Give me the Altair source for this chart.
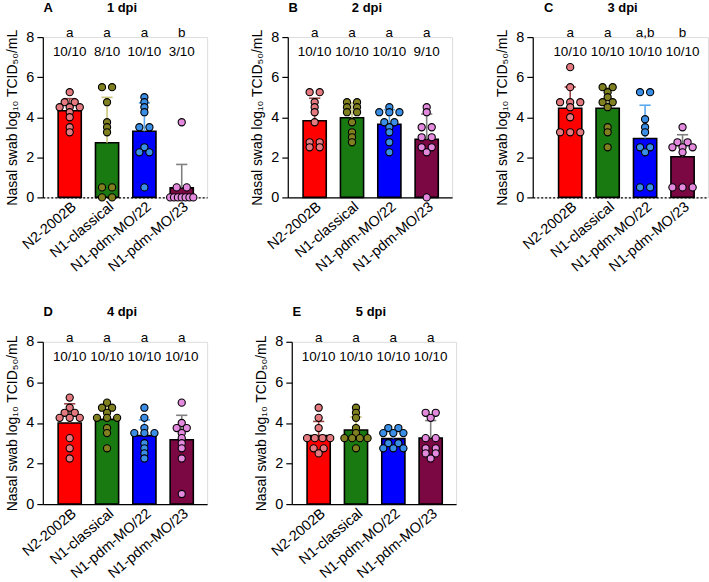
import altair as alt
import pandas as pd
import numpy as np

groups = ["N2-2002B", "N1-classical", "N1-pdm-MO/22", "N1-pdm-MO/23"]
panel_letters = ["A", "B", "C", "D", "E"]
panel_days = ["1 dpi", "2 dpi", "3 dpi", "4 dpi", "5 dpi"]

# log10 TCID50/mL per animal, per group
dpi1 = [
    [5.25, 4.75, 4.75, 4.5, 4.5, 4.5, 4.25, 4.0, 3.5, 3.25],
    [5.5, 5.5, 4.75, 3.75, 3.5, 3.25, 0.5, 0.5, 0.0, 0.0],
    [5.0, 4.75, 4.5, 4.25, 3.5, 3.5, 2.5, 2.25, 2.25, 0.5],
    [3.75, 0.5, 0.5, 0.0, 0.0, 0.0, 0.0, 0.0, 0.0, 0.0],
]
dpi2 = [
    [5.25, 5.25, 4.75, 4.5, 4.25, 3.75, 2.75, 2.75, 2.5, 2.5],
    [4.75, 4.75, 4.5, 4.5, 4.25, 4.25, 3.75, 3.25, 3.0, 2.75],
    [4.5, 4.25, 4.25, 4.25, 3.75, 3.75, 3.5, 3.25, 2.75, 2.25],
    [4.5, 4.25, 3.5, 3.5, 3.0, 3.0, 2.5, 2.5, 2.25, 0.0],
]
dpi3 = [
    [6.5, 5.5, 4.75, 4.75, 4.75, 4.5, 4.0, 3.25, 3.25, 3.25],
    [5.5, 5.5, 5.25, 5.0, 4.75, 4.75, 4.5, 3.5, 3.25, 2.5],
    [5.25, 5.25, 3.9, 3.5, 3.25, 2.5, 2.5, 2.25, 0.5, 0.5],
    [3.5, 2.75, 2.75, 2.5, 2.5, 2.5, 2.25, 0.5, 0.5, 0.5],
]
dpi4 = [
    [5.25, 4.75, 4.5, 4.5, 4.25, 4.25, 4.25, 3.25, 2.75, 2.25],
    [5.0, 4.75, 4.75, 4.5, 4.25, 4.25, 4.25, 3.75, 3.5, 2.75],
    [4.75, 4.25, 3.75, 3.5, 3.5, 3.5, 3.0, 2.75, 2.5, 2.25],
    [5.0, 4.0, 3.75, 3.75, 3.5, 3.25, 3.0, 2.75, 2.25, 0.5],
]
dpi5 = [
    [4.75, 4.25, 3.75, 3.25, 3.25, 3.25, 3.25, 2.75, 2.75, 2.5],
    [4.75, 4.5, 4.25, 3.75, 3.5, 3.25, 3.25, 3.25, 3.25, 2.75],
    [3.75, 3.75, 3.5, 3.5, 3.5, 3.0, 3.0, 2.75, 2.75, 2.75],
    [4.5, 4.5, 4.25, 3.25, 3.25, 2.75, 2.75, 2.5, 2.5, 2.25],
]
all_values = [dpi1, dpi2, dpi3, dpi4, dpi5]

stat_letters = [
    ["a", "a", "a", "b"],
    ["a", "a", "a", "a"],
    ["a", "a", "a,b", "b"],
    ["a", "a", "a", "a"],
    ["a", "a", "a", "a"],
]
fractions = [
    ["10/10", "8/10", "10/10", "3/10"],
    ["10/10", "10/10", "10/10", "9/10"],
    ["10/10", "10/10", "10/10", "10/10"],
    ["10/10", "10/10", "10/10", "10/10"],
    ["10/10", "10/10", "10/10", "10/10"],
]

bar_colors = ["#FF0000", "#1A7A12", "#0000FF", "#7B0843"]
point_colors = ["#E47A80", "#808020", "#3A8EE6", "#E48ADE"]
err_colors = ["#9A4444", "#C8C47A", "#5AA8F0", "#808080"]

FONT = "Liberation Sans"
HALF_BAR = 0.31
HALF_CAP = 0.15


def spread(arr):
    counts = {}
    for v in arr:
        counts[v] = counts.get(v, 0) + 1
    seen = {}
    out = []
    for v in arr:
        n = counts[v]
        k = seen.get(v, 0)
        seen[v] = k + 1
        step = 0.27 if n < 2 else min(0.27, 0.62 / (n - 1))
        out.append((k - (n - 1) / 2) * step)
    return out


def make_panel(p, xmin, width, height, dashed):
    vals = all_values[p]
    pts, stats = [], []
    for g, arr in enumerate(vals):
        offs = spread(arr)
        for v, o in zip(arr, offs):
            pts.append({"x": g + o, "v": v, "fill": point_colors[g]})
        a = np.array(arr)
        m = float(a.mean())
        sd = float(a.std(ddof=1))
        stats.append({
            "xc": g, "x0": g - HALF_BAR, "x1": g + HALF_BAR,
            "cl": g - HALF_CAP, "cr": g + HALF_CAP,
            "mean": m, "top": m + sd,
            "fill": bar_colors[g], "err": err_colors[g],
            "letter": stat_letters[p][g], "frac": fractions[p][g],
        })
    pts = pd.DataFrame(pts)
    stats = pd.DataFrame(stats)
    ann = pd.DataFrame([{"lx": -0.7, "cx": 1.4, "ty": 9.45,
                         "letter": panel_letters[p], "day": panel_days[p]}])

    xscale = alt.Scale(domain=[xmin, 3.68], nice=False, zero=False)
    yscale = alt.Scale(domain=[0, 8], nice=False)
    xaxis = alt.Axis(
        values=[0, 1, 2, 3],
        labelExpr="['N2-2002B','N1-classical','N1-pdm-MO/22','N1-pdm-MO/23'][datum.value]",
        labelAngle=-40, labelFontSize=14.5, labelColor="black", labelFont=FONT,
        labelOverlap=False, labelBound=False, labelFlush=False,
        domainColor="black", domainWidth=1.2, ticks=False,
        domainDash=[2, 2] if dashed else [], grid=False, title=None,
        labelPadding=2,
    )
    yaxis = alt.Axis(
        values=[0, 2, 4, 6, 8], labelFontSize=14.5, labelColor="black", labelFont=FONT,
        domainColor="black", domainWidth=1.2, tickColor="black", tickSize=6,
        tickWidth=1.2, grid=False, title="Nasal swab log₁₀ TCID₅₀/mL",
        titleFontSize=14, titleFontWeight="normal", titleColor="black",
        titleFont=FONT, titlePadding=6, labelPadding=3,
    )

    def X(f):
        return alt.X(f"{f}:Q", scale=xscale, axis=xaxis)

    def Y(f):
        return alt.Y(f"{f}:Q", scale=yscale, axis=yaxis)

    bars = alt.Chart(stats).mark_bar(stroke="black", strokeWidth=1.6).encode(
        x=X("x0"), x2="x1", y=Y("mean"), y2=alt.datum(0),
        fill=alt.Fill("fill:N", scale=None))
    err = alt.Chart(stats).mark_rule(strokeWidth=1.6).encode(
        x=X("xc"), y=Y("mean"), y2="top", color=alt.Color("err:N", scale=None))
    cap = alt.Chart(stats).mark_rule(strokeWidth=1.6).encode(
        x=X("cl"), x2="cr", y=Y("top"), color=alt.Color("err:N", scale=None))
    dots = alt.Chart(pts).mark_point(
        filled=True, shape="circle", size=52, stroke="black", strokeWidth=1.1,
        opacity=1).encode(x=X("x"), y=Y("v"), fill=alt.Fill("fill:N", scale=None))
    let = alt.Chart(stats).transform_calculate(ly="8.2").mark_text(
        fontSize=13.5, font=FONT, color="black").encode(
        x=X("xc"), y=Y("ly"), text="letter:N")
    frac = alt.Chart(stats).transform_calculate(fy="7.25").mark_text(
        fontSize=13.5, font=FONT, color="black").encode(
        x=X("xc"), y=Y("fy"), text="frac:N")
    plet = alt.Chart(ann).mark_text(
        fontSize=13, font=FONT, fontWeight="bold", align="left", color="black").encode(
        x=X("lx"), y=Y("ty"), text="letter:N")
    pday = alt.Chart(ann).mark_text(
        fontSize=13, font=FONT, fontWeight="bold", color="black").encode(
        x=X("cx"), y=Y("ty"), text="day:N")

    return alt.layer(bars, err, cap, dots, let, frac, plet, pday).properties(
        width=width, height=height)


pA = make_panel(0, -0.72, 165, 161, True)
pB = make_panel(1, -0.72, 165, 161, False)
pC = make_panel(2, -1.0, 176, 161, True)
pD = make_panel(3, -0.72, 165, 163, False)
pE = make_panel(4, -0.72, 165, 163, False)

top = alt.hconcat(pA, pB, pC, spacing=42)
bottom = alt.hconcat(pD, pE, spacing=46)
chart = alt.vconcat(top, bottom, spacing=30).configure_view(
    stroke=None).configure(font=FONT).properties(
    padding={"left": 5, "top": 0, "right": 0, "bottom": 0})

chart.save("out.html", embed_options={"renderer": "svg", "actions": False})
